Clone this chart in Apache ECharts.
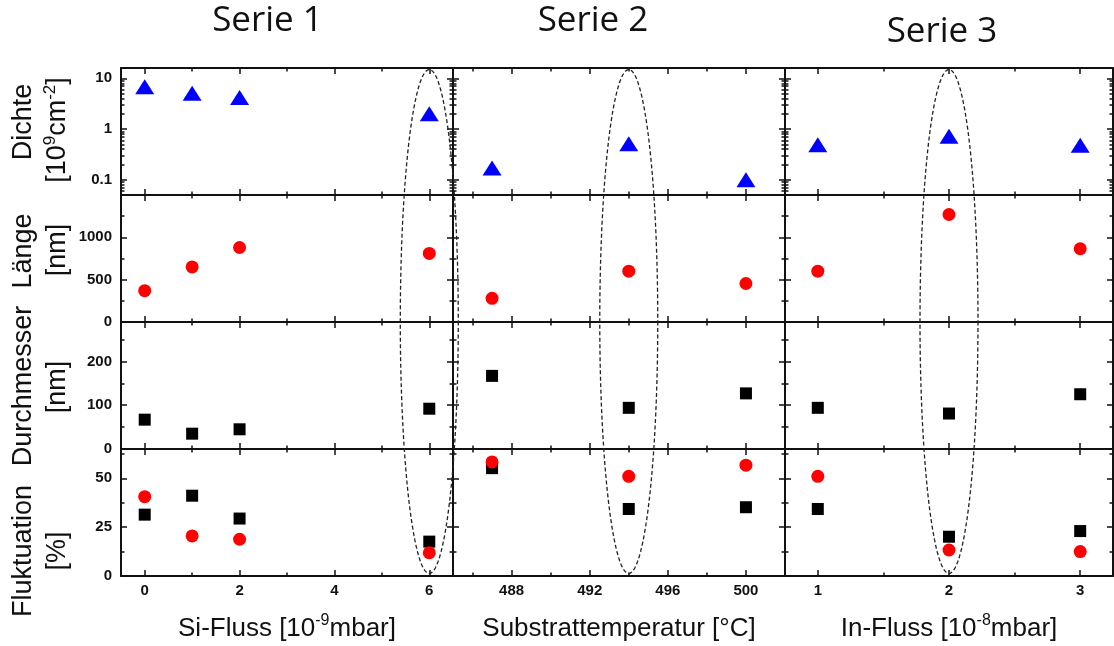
<!DOCTYPE html>
<html style="height: 100%">

<head>
    <meta charset="utf-8">
</head>

<body style="height: 100%; margin: 0">
    <div id="container" style="width: 1114px; height: 646px"></div>

    <script src="https://cdn.jsdelivr.net/npm/echarts@6/dist/echarts.min.js"></script>

    <script type="text/javascript">
        // Daten
        var serieTitles = ['Serie 1', 'Serie 2', 'Serie 3'];
        var xNames = ['Si-Fluss [10{sup|-9}mbar]', 'Substrattemperatur [°C]', 'In-Fluss [10{sup|-8}mbar]'];

        var siFluss = [0, 1, 2, 6];
        var substratTemp = [487, 494, 500];
        var inFluss = [1, 2, 3];

        var dichte1 = [6.8, 5.1, 4.2, 2.0];
        var dichte2 = [0.17, 0.51, 0.10];
        var dichte3 = [0.49, 0.72, 0.48];

        var laenge1 = [370, 650, 880, 810];
        var laenge2 = [280, 600, 455];
        var laenge3 = [600, 1270, 865];

        var durchmesser1 = [67, 35, 45, 92];
        var durchmesser2 = [167, 94, 127];
        var durchmesser3 = [94, 81, 125];

        // Fluktuation: Quadrate (Durchmesser) und Kreise (Länge)
        var fluktDurchmesser1 = [31.4, 41.1, 29.4, 17.6];
        var fluktDurchmesser2 = [55.2, 34.3, 35.2];
        var fluktDurchmesser3 = [34.3, 20.1, 23.0];
        var fluktLaenge1 = [40.6, 20.5, 18.8, 11.9];
        var fluktLaenge2 = [58.4, 51.0, 56.7];
        var fluktLaenge3 = [51.0, 13.3, 12.5];

        // markierte Probe je Serie (Ellipse)
        var markedX = [6, 494, 2];

        // Achsen / Ticks
        var xRange = [[-0.5, 6.5], [485, 502], [0.75, 3.25]];
        var xMajor = [[0, 2, 4, 6], [488, 492, 496, 500], [1, 2, 3]];
        var xMinor = [[1, 3, 5], [486, 490, 494, 498, 502], [1.5, 2.5]];

        var yRange = [[0.05, 16], [0, 1500], [0, 290], [0, 65]];
        var yMajor = [[0.1, 1, 10], [0, 500, 1000], [0, 100, 200], [0, 25, 50]];
        var yMinor = [
            [0.06, 0.07, 0.08, 0.09, 0.2, 0.3, 0.4, 0.5, 0.6, 0.7, 0.8, 0.9, 2, 3, 4, 5, 6, 7, 8, 9],
            [250, 750, 1250],
            [50, 150, 250],
            [12.5, 37.5, 62.5]
        ];

        var yTitles = [
            ['Dichte', '[10{sup|9}cm{sup|-2}]'],
            ['Länge', '[nm]'],
            ['Durchmesser', '[nm]'],
            ['Fluktuation', '[%]']
        ];

        var xValues = [siFluss, substratTemp, inFluss];
        var dichte = [dichte1, dichte2, dichte3];
        var laenge = [laenge1, laenge2, laenge3];
        var durchmesser = [durchmesser1, durchmesser2, durchmesser3];
        var fluktDurchmesser = [fluktDurchmesser1, fluktDurchmesser2, fluktDurchmesser3];
        var fluktLaenge = [fluktLaenge1, fluktLaenge2, fluktLaenge3];

        // Layout
        var colLeft = [121, 453, 785];
        var colWidth = [332, 332, 328];
        var rowTop = [68, 195, 322, 449];
        var rowHeight = 127;

        var arial = 'Arial, "Liberation Sans", sans-serif';
        var frameLine = { color: '#111', width: 2 };
        var tickLine = { color: '#111', width: 1.5 };
        var supStyle = { fontSize: 16, lineHeight: 16, verticalAlign: 'top', fontFamily: arial, color: '#111' };

        var myChart = echarts.init(document.getElementById('container'));

        var grids = [], xAxes = [], yAxes = [], series = [];
        var xIdx = [], yIdx = [];

        function pairs(xs, ys) {
            return xs.map(function (x, i) { return [x, ys[i]]; });
        }
        function plain(v) {
            return String(v);
        }

        for (var r = 0; r < 4; r++) {
            for (var c = 0; c < 3; c++) {
                var g = r * 3 + c;
                grids.push({
                    left: colLeft[c], top: rowTop[r], width: colWidth[c], height: rowHeight,
                    containLabel: false, outerBoundsMode: 'none'
                });

                ['bottom', 'top'].forEach(function (pos) {
                    var main = pos === 'bottom';
                    var withLabel = main && r === 3;
                    if (main) xIdx[g] = xAxes.length;
                    xAxes.push({
                        type: 'value', gridIndex: g, position: pos,
                        min: xRange[c][0], max: xRange[c][1],
                        axisLine: { show: true, onZero: false, lineStyle: frameLine },
                        axisTick: { show: true, inside: true, length: 6, customValues: xMajor[c], lineStyle: tickLine },
                        axisLabel: {
                            show: withLabel, customValues: xMajor[c], margin: 7, formatter: plain,
                            fontSize: 15, fontWeight: 'bold', fontFamily: arial, color: '#111'
                        },
                        splitLine: { show: false },
                        name: withLabel ? xNames[c] : '',
                        nameLocation: 'middle', nameGap: 37,
                        nameTextStyle: {
                            fontSize: 26, lineHeight: 32, fontFamily: arial, color: '#111',
                            rich: { sup: supStyle }
                        }
                    });
                    // kleine Ticks
                    xAxes.push({
                        type: 'value', gridIndex: g, position: pos,
                        min: xRange[c][0], max: xRange[c][1],
                        axisLine: { show: false, onZero: false },
                        axisTick: { show: true, inside: true, length: 3.5, customValues: xMinor[c], lineStyle: tickLine },
                        axisLabel: { show: false },
                        splitLine: { show: false }
                    });
                });

                ['left', 'right'].forEach(function (pos) {
                    var main = pos === 'left';
                    var withLabel = main && c === 0;
                    if (main) yIdx[g] = yAxes.length;
                    var type = r === 0 ? 'log' : 'value';
                    yAxes.push({
                        type: type, logBase: 10, gridIndex: g, position: pos,
                        min: yRange[r][0], max: yRange[r][1],
                        axisLine: { show: true, onZero: false, lineStyle: frameLine },
                        axisTick: { show: true, inside: true, length: 6, customValues: yMajor[r], lineStyle: tickLine },
                        axisLabel: {
                            show: withLabel, customValues: yMajor[r], margin: 9, formatter: plain,
                            fontSize: 15, fontWeight: 'bold', fontFamily: arial, color: '#111'
                        },
                        splitLine: { show: false }
                    });
                    yAxes.push({
                        type: type, logBase: 10, gridIndex: g, position: pos,
                        min: yRange[r][0], max: yRange[r][1],
                        axisLine: { show: false, onZero: false },
                        axisTick: { show: true, inside: true, length: 3.5, customValues: yMinor[r], lineStyle: tickLine },
                        axisLabel: { show: false },
                        splitLine: { show: false }
                    });
                });
            }
        }

        for (var c = 0; c < 3; c++) {
            series.push({
                type: 'scatter', xAxisIndex: xIdx[c], yAxisIndex: yIdx[c],
                symbol: 'triangle', symbolSize: [19, 15],
                itemStyle: { color: '#0000ff', opacity: 1 },
                data: pairs(xValues[c], dichte[c])
            });
            series.push({
                type: 'scatter', xAxisIndex: xIdx[3 + c], yAxisIndex: yIdx[3 + c],
                symbol: 'circle', symbolSize: 13,
                itemStyle: { color: '#ff0000', opacity: 1 },
                data: pairs(xValues[c], laenge[c])
            });
            series.push({
                type: 'scatter', xAxisIndex: xIdx[6 + c], yAxisIndex: yIdx[6 + c],
                symbol: 'rect', symbolSize: 12,
                itemStyle: { color: '#000', opacity: 1 },
                data: pairs(xValues[c], durchmesser[c])
            });
            series.push({
                type: 'scatter', xAxisIndex: xIdx[9 + c], yAxisIndex: yIdx[9 + c],
                symbol: 'rect', symbolSize: 12,
                itemStyle: { color: '#000', opacity: 1 },
                data: pairs(xValues[c], fluktDurchmesser[c])
            });
            series.push({
                type: 'scatter', xAxisIndex: xIdx[9 + c], yAxisIndex: yIdx[9 + c],
                symbol: 'circle', symbolSize: 13,
                itemStyle: { color: '#ff0000', opacity: 1 },
                data: pairs(xValues[c], fluktLaenge[c])
            });
        }

        // Texte: Titel + y-Achsentitel
        var titlePos = [[267.5, 21.5], [593, 21.5], [942, 32]];
        var yTitleY = [[122, 130], [251, 250], [386, 387], [551, 551]];
        var graphics = [];
        serieTitles.forEach(function (t, i) {
            graphics.push({
                type: 'text', x: titlePos[i][0], y: titlePos[i][1],
                style: {
                    text: t, fontSize: 35, fontFamily: '"Open Sans", sans-serif',
                    fill: '#111', align: 'center', verticalAlign: 'middle'
                }
            });
        });
        yTitles.forEach(function (lines, i) {
            [23.5, 58].forEach(function (x, k) {
                graphics.push({
                    type: 'text', x: x, y: yTitleY[i][k], rotation: Math.PI / 2,
                    style: {
                        text: lines[k], fontSize: 27, lineHeight: 33, fontFamily: arial,
                        fill: '#111', align: 'center', verticalAlign: 'middle',
                        rich: { sup: { fontSize: 17, lineHeight: 17, verticalAlign: 'top', fontFamily: arial, fill: '#111' } }
                    }
                });
            });
        });

        var option = {
            animation: false,
            backgroundColor: '#fff',
            grid: grids,
            xAxis: xAxes,
            yAxis: yAxes,
            series: series,
            graphic: graphics
        };
        myChart.setOption(option);

        // gestrichelte Ellipsen um die markierten Proben
        var rx = 29, cy = 321.5, ry = 252;
        markedX.forEach(function (mx, c) {
            var cx = myChart.convertToPixel({ xAxisIndex: xIdx[c] }, mx);
            var pts = [];
            for (var i = 0; i < 120; i++) {
                var t = 2 * Math.PI * i / 120;
                pts.push([cx + rx * Math.cos(t), cy + ry * Math.sin(t)]);
            }
            graphics.push({
                type: 'polygon', z: 100,
                shape: { points: pts },
                style: { fill: 'none', stroke: '#222', lineWidth: 1.3, lineDash: [4, 2.5] }
            });
        });
        myChart.setOption({ graphic: graphics });
    </script>
</body>

</html>
